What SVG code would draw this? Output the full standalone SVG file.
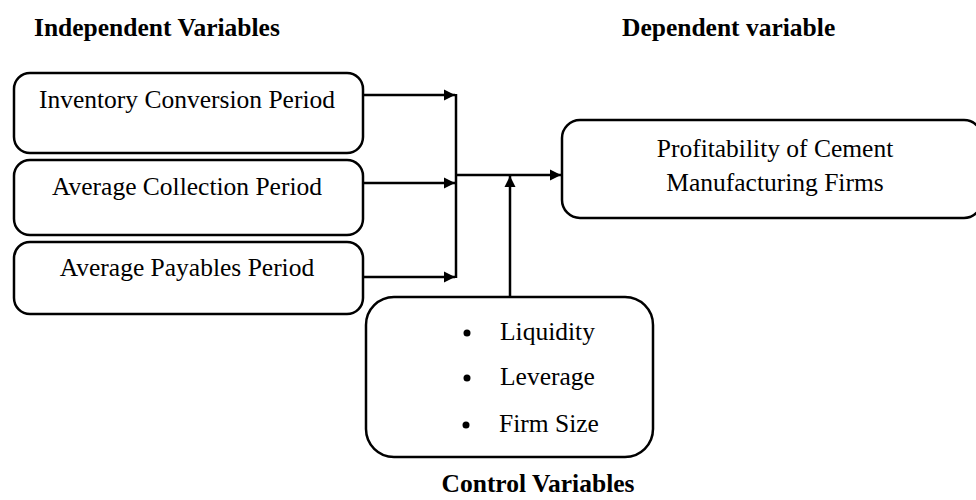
<svg xmlns="http://www.w3.org/2000/svg" width="976" height="500" viewBox="0 0 976 500">
<style>
.box{fill:#fff;stroke:#000;stroke-width:2.5}
.t{font-family:"Liberation Serif","Times New Roman",serif;font-size:25.5px;fill:#000}
.b{font-family:"Liberation Serif","Times New Roman",serif;font-size:25.5px;font-weight:bold;fill:#000}
.c{fill:none;stroke:#000;stroke-width:2.5}
</style>
<defs>
<marker id="ah" viewBox="0 0 10 10" refX="10" refY="5" markerWidth="4.5" markerHeight="4.5" orient="auto" markerUnits="strokeWidth">
<path d="M0,0 L10,5 L0,10 z" fill="#000"/>
</marker>
</defs>
<rect width="976" height="500" fill="#fff"/>
<text class="b" x="34" y="36">Independent Variables</text>
<text class="b" x="622" y="36">Dependent variable</text>
<text class="b" x="538" y="492" text-anchor="middle">Control Variables</text>
<g id="icp"><rect class="box" x="14" y="73" width="349" height="80" rx="16"/><text class="t" x="187" y="108" text-anchor="middle">Inventory Conversion Period</text></g>
<g id="acp"><rect class="box" x="14" y="160" width="349" height="75" rx="16"/><text class="t" x="187" y="195" text-anchor="middle">Average Collection Period</text></g>
<g id="app"><rect class="box" x="14" y="242" width="349" height="72" rx="16"/><text class="t" x="187" y="276" text-anchor="middle">Average Payables Period</text></g>
<g id="profit"><rect class="box" x="562" y="120" width="420" height="98" rx="18"/><text class="t" x="775" y="157" text-anchor="middle">Profitability of Cement</text><text class="t" x="775" y="191" text-anchor="middle">Manufacturing Firms</text></g>
<g id="control"><rect class="box" x="366" y="297" width="287" height="160" rx="28"/>
<circle cx="467" cy="333" r="3.5"/><text class="t" x="500" y="340">Liquidity</text>
<circle cx="467" cy="378" r="3.5"/><text class="t" x="500" y="385">Leverage</text>
<circle cx="466" cy="425" r="3.5"/><text class="t" x="499" y="432">Firm Size</text></g>
<g id="connectors">
<line class="c" x1="363" y1="95" x2="455" y2="95" marker-end="url(#ah)"/>
<line class="c" x1="363" y1="183" x2="455" y2="183" marker-end="url(#ah)"/>
<line class="c" x1="363" y1="277" x2="455" y2="277" marker-end="url(#ah)"/>
<line class="c" x1="456" y1="94" x2="456" y2="278"/>
<line class="c" x1="456" y1="175" x2="561" y2="175" marker-end="url(#ah)"/>
<line class="c" x1="510" y1="297" x2="510" y2="176" marker-end="url(#ah)"/>
</g>
</svg>
